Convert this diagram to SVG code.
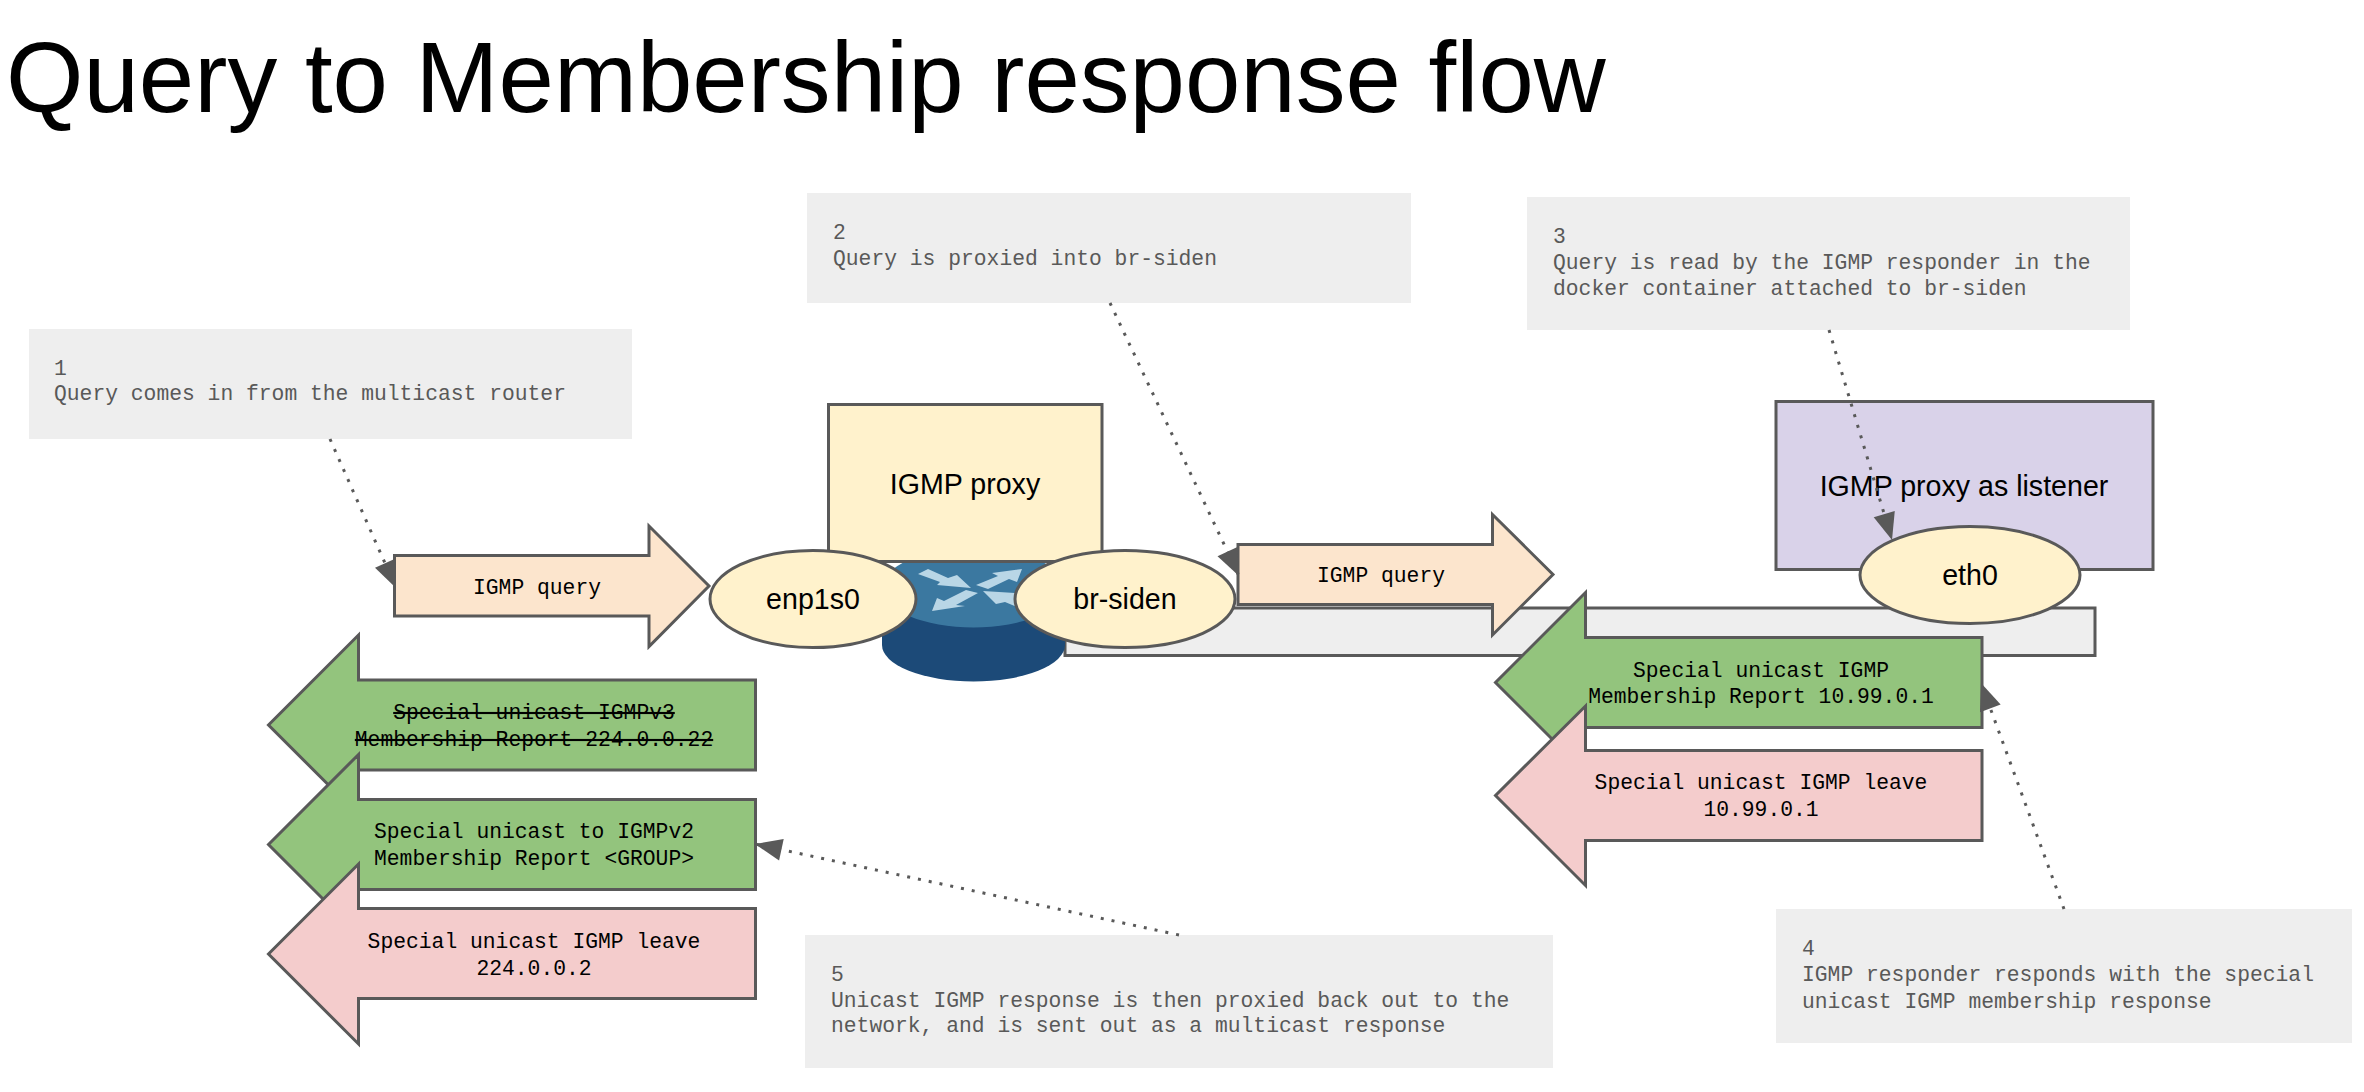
<svg xmlns="http://www.w3.org/2000/svg" width="2364" height="1092" viewBox="0 0 2364 1092">
<style>
.s{stroke:#595959;stroke-width:3;stroke-linejoin:miter}
.note{fill:#eeeeee}
.nt{font:21.33px "Liberation Mono",monospace;fill:#595959}
.at{font:21.33px "Liberation Mono",monospace;fill:#000;text-anchor:middle}
.nl{font:28.6px "Liberation Sans",Arial,sans-serif;fill:#000;text-anchor:middle}
.o{fill:#fce5cd}.g{fill:#93c47d}.p{fill:#f4cccc}.y{fill:#fff2cc}
.c{fill:none;stroke:#595959;stroke-width:3;stroke-dasharray:3 8;marker-end:url(#h)}
</style>
<defs><marker id="h" markerUnits="userSpaceOnUse" markerWidth="30" markerHeight="26" refX="28" refY="13" orient="auto"><path d="M1 2L28 13L1 24Z" fill="#595959"/></marker></defs>
<rect width="2364" height="1092" fill="#fff"/>
<text x="6" y="112" font-family="Liberation Sans,Arial,sans-serif" font-size="99.6" fill="#000">Query to Membership response flow</text>
<g id="bar"><rect class="s" x="1065" y="608" width="1030" height="47.5" fill="#eeeeee"/></g>
<g id="router"><path d="M882 588V645A91.500 36.500 0 0 0 1065 645V588Z" fill="#1c4a78"/><ellipse cx="973.500" cy="588" rx="91.500" ry="39.500" fill="#3b78a0"/>
<g fill="#b9d6e6"><path d="M918 574L928 569L948 578L957 575L971 588L937 585L940 582Z"/><path d="M1022 569L1017 582L1009 579L988 589L976 585L998 576L992 573Z"/><path d="M932 611L937 598L944 601L966 590L978 593L956 605L965 606Z"/><path d="M983 591L1015 593L1017 607L1005 602L996 604Z"/></g></g>
<g id="proxy"><rect class="s y" x="828.5" y="404.5" width="273.5" height="157"/><text class="nl" x="965" y="494">IGMP proxy</text></g>
<g id="enp1s0"><ellipse class="s y" cx="813" cy="599" rx="103" ry="48.500"/><text class="nl" x="813" y="609">enp1s0</text></g>
<g id="br-siden"><ellipse class="s y" cx="1125" cy="599" rx="110" ry="48.500"/><text class="nl" x="1125" y="609">br-siden</text></g>
<g id="listener"><rect class="s" x="1776" y="401.500" width="377" height="168" fill="#d9d2e9"/><text class="nl" x="1964" y="496">IGMP proxy as listener</text></g>
<g id="eth0"><ellipse class="s y" cx="1970" cy="575" rx="110" ry="48.500"/><text class="nl" x="1970" y="585">eth0</text></g>
<g id="a1"><path class="s o" d="M394.500 555.500H649V526L709 586L649 646.500V616H394.500Z"/><text class="at" x="537" y="594">IGMP query</text></g>
<g id="a2"><path class="s o" d="M1238 544.500H1492.500V514.500L1553 574.500L1492.500 635V604.500H1238Z"/><text class="at" x="1381" y="582">IGMP query</text></g>
<g id="a3"><path class="s g" d="M755.500 680H358.500V635L268.500 725L358.500 815V770H755.500Z"/><text class="at" x="534" y="719" text-decoration="line-through">Special unicast IGMPv3</text><text class="at" x="534" y="746" text-decoration="line-through">Membership Report 224.0.0.22</text></g>
<g id="a4"><path class="s g" d="M755.500 799.500H358.500V754.500L268.500 844.500L358.500 934.500V889.500H755.500Z"/><text class="at" x="534" y="838">Special unicast to IGMPv2</text><text class="at" x="534" y="865">Membership Report &lt;GROUP&gt;</text></g>
<g id="a5"><path class="s p" d="M755.500 908.500H358.500V864L268.500 954L358.500 1044V998.500H755.500Z"/><text class="at" x="534" y="948">Special unicast IGMP leave</text><text class="at" x="534" y="975">224.0.0.2</text></g>
<g id="a6"><path class="s g" d="M1982 637.500H1585.500V592.500L1495.500 682.500L1585.500 772.500V727.500H1982Z"/><text class="at" x="1761" y="677">Special unicast IGMP</text><text class="at" x="1761" y="703">Membership Report 10.99.0.1</text></g>
<g id="a7"><path class="s p" d="M1982 750.500H1585.500V706L1495.500 795.500L1585.500 885.500V840.500H1982Z"/><text class="at" x="1761" y="789">Special unicast IGMP leave</text><text class="at" x="1761" y="816">10.99.0.1</text></g>
<g id="n1"><rect class="note" x="29" y="329" width="603" height="110"/><text class="nt" x="54" y="375">1</text><text class="nt" x="54" y="400">Query comes in from the multicast router</text></g>
<g id="n2"><rect class="note" x="807" y="193" width="604" height="110"/><text class="nt" x="833" y="239">2</text><text class="nt" x="833" y="265">Query is proxied into br-siden</text></g>
<g id="n3"><rect class="note" x="1527" y="197" width="603" height="133"/><text class="nt" x="1553" y="243">3</text><text class="nt" x="1553" y="269">Query is read by the IGMP responder in the</text><text class="nt" x="1553" y="295">docker container attached to br-siden</text></g>
<g id="n4"><rect class="note" x="1776" y="909" width="576" height="134"/><text class="nt" x="1802" y="955">4</text><text class="nt" x="1802" y="981">IGMP responder responds with the special</text><text class="nt" x="1802" y="1008">unicast IGMP membership response</text></g>
<g id="n5"><rect class="note" x="805" y="935" width="748" height="133"/><text class="nt" x="831" y="981">5</text><text class="nt" x="831" y="1007">Unicast IGMP response is then proxied back out to the</text><text class="nt" x="831" y="1032">network, and is sent out as a multicast response</text></g>
<g id="connectors">
<path class="c" d="M330 439L396 588"/>
<path class="c" d="M1110 303L1239 576"/>
<path class="c" d="M1829 330L1892 540"/>
<path class="c" d="M2064 909L1981 683"/>
<path class="c" d="M1179 935L755 844"/>
</g>
</svg>
